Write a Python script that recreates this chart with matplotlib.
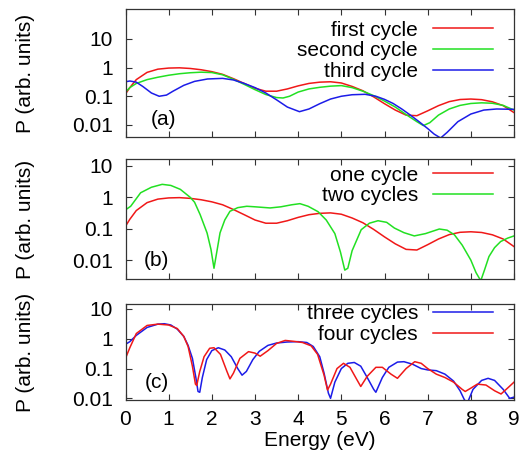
import matplotlib
matplotlib.use("Agg")
import matplotlib.pyplot as plt

plt.rcParams["font.family"] = ["Liberation Sans", "DejaVu Sans"]
plt.rcParams["font.size"] = 15

RED = "#f01818"
GREEN = "#22e022"
BLUE = "#1c1ce8"

# one cycle / first cycle
e_one = [0.0, 0.1, 0.25, 0.5, 0.75, 1.0, 1.25, 1.5, 1.75, 2.0, 2.25, 2.5, 2.75, 3.0,
         3.25, 3.5, 3.75, 4.0, 4.25, 4.5, 4.75, 5.0, 5.25, 5.5, 5.75, 6.0, 6.25, 6.5,
         6.75, 7.0, 7.25, 7.5, 7.75, 8.0, 8.25, 8.5, 8.75, 9.0]
p_one = [0.12, 0.2, 0.38, 0.68, 0.88, 0.96, 0.98, 0.93, 0.84, 0.72, 0.58, 0.41, 0.28, 0.19,
         0.15, 0.15, 0.18, 0.23, 0.28, 0.31, 0.32, 0.29, 0.22, 0.155, 0.095, 0.055, 0.033, 0.022,
         0.021, 0.031, 0.047, 0.065, 0.077, 0.08, 0.076, 0.064, 0.047, 0.027]

# second cycle
e_second = [0.0, 0.1, 0.25, 0.5, 0.75, 1.0, 1.25, 1.5, 1.75, 2.0, 2.25, 2.5, 2.75, 3.0,
            3.25, 3.5, 3.65, 3.8, 4.0, 4.25, 4.5, 4.75, 5.0, 5.25, 5.5, 5.75, 6.0, 6.25,
            6.5, 6.75, 6.9, 7.05, 7.25, 7.5, 7.75, 8.0, 8.25, 8.5, 8.75, 9.0]
p_second = [0.14, 0.2, 0.28, 0.38, 0.46, 0.54, 0.61, 0.66, 0.69, 0.67, 0.56, 0.39, 0.26, 0.17,
            0.115, 0.09, 0.087, 0.1, 0.14, 0.18, 0.205, 0.225, 0.235, 0.2, 0.15, 0.105, 0.068, 0.042,
            0.023, 0.013, 0.0095, 0.012, 0.022, 0.036, 0.048, 0.056, 0.059, 0.057, 0.048, 0.033]

# third cycle
e_third = [0.0, 0.1, 0.25, 0.4, 0.6, 0.78, 0.95, 1.1, 1.35, 1.6, 1.9, 2.25, 2.5, 2.75,
           3.0, 3.25, 3.5, 3.75, 4.03, 4.25, 4.5, 4.75, 5.0, 5.25, 5.55, 5.8, 6.0, 6.2,
           6.4, 6.6, 6.8, 7.0, 7.15, 7.3, 7.45, 7.7, 8.0, 8.3, 8.6, 9.0]
p_third = [0.32, 0.34, 0.31, 0.22, 0.13, 0.1, 0.11, 0.15, 0.24, 0.33, 0.4, 0.42, 0.37, 0.28,
           0.2, 0.13, 0.075, 0.042, 0.029, 0.036, 0.055, 0.08, 0.1, 0.113, 0.117, 0.1, 0.078, 0.056,
           0.036, 0.022, 0.013, 0.0075, 0.0048, 0.0035, 0.0055, 0.013, 0.024, 0.033, 0.036, 0.035]

# two cycles
e_two = [0.0, 0.12, 0.35, 0.6, 0.85, 1.05, 1.27, 1.5, 1.6, 1.73, 1.89, 1.98, 2.05, 2.12,
         2.19, 2.3, 2.42, 2.6, 2.81, 3.0, 3.35, 3.6, 3.85, 4.04, 4.23, 4.46, 4.65, 4.85,
         4.98, 5.08, 5.15, 5.25, 5.46, 5.65, 5.85, 6.05, 6.23, 6.45, 6.69, 6.95, 7.27, 7.45,
         7.62, 7.8, 8.0, 8.12, 8.23, 8.32, 8.42, 8.55, 8.69, 8.85, 9.0]
p_two = [0.4, 0.52, 1.4, 2.1, 2.6, 2.4, 1.8, 1.0, 0.7, 0.28, 0.073, 0.022, 0.0055, 0.02,
         0.074, 0.19, 0.36, 0.47, 0.52, 0.5, 0.46, 0.5, 0.58, 0.63, 0.52, 0.35, 0.19, 0.07,
         0.018, 0.0048, 0.0055, 0.02, 0.093, 0.15, 0.18, 0.16, 0.105, 0.075, 0.059, 0.07, 0.098, 0.09,
         0.064, 0.03, 0.01, 0.004, 0.0022, 0.005, 0.013, 0.025, 0.039, 0.05, 0.059]

# three cycles
e_three = [0.0, 0.1, 0.25, 0.5, 0.75, 0.9, 1.05, 1.2, 1.35, 1.45, 1.55, 1.63, 1.68, 1.72,
           1.78, 1.88, 2.0, 2.15, 2.3, 2.45, 2.6, 2.7, 2.8, 2.95, 3.1, 3.3, 3.5, 3.75,
           4.0, 4.2, 4.35, 4.5, 4.6, 4.7, 4.75, 4.85, 5.0, 5.15, 5.3, 5.45, 5.6, 5.75,
           5.8, 5.95, 6.1, 6.3, 6.45, 6.65, 6.85, 7.0, 7.2, 7.4, 7.6, 7.75, 7.85, 7.92,
           8.05, 8.25, 8.4, 8.55, 8.75, 8.9, 9.0]
p_three = [0.65, 0.8, 1.3, 2.4, 3.1, 3.2, 2.9, 2.1, 1.2, 0.6, 0.22, 0.05, 0.017, 0.016,
           0.05, 0.2, 0.4, 0.5, 0.42, 0.25, 0.1, 0.06, 0.08, 0.2, 0.38, 0.6, 0.72, 0.78,
           0.8, 0.75, 0.55, 0.25, 0.07, 0.015, 0.01, 0.035, 0.1, 0.15, 0.16, 0.12, 0.05, 0.02,
           0.016, 0.05, 0.11, 0.165, 0.17, 0.14, 0.1, 0.09, 0.085, 0.065, 0.038, 0.018, 0.009, 0.007,
           0.02, 0.04, 0.047, 0.04, 0.02, 0.01, 0.011]

# four cycles
e_four = [0.0, 0.1, 0.25, 0.5, 0.75, 1.0, 1.2, 1.35, 1.45, 1.55, 1.62, 1.65, 1.72, 1.82,
          1.95, 2.05, 2.2, 2.35, 2.42, 2.5, 2.65, 2.85, 3.0, 3.12, 3.3, 3.5, 3.7, 3.9,
          4.1, 4.3, 4.45, 4.6, 4.68, 4.75, 4.9, 5.05, 5.2, 5.35, 5.45, 5.6, 5.8, 5.95,
          6.15, 6.3, 6.5, 6.7, 6.85, 7.0, 7.2, 7.4, 7.6, 7.8, 7.87, 8.0, 8.15, 8.35,
          8.55, 8.7, 8.85, 9.0]
p_four = [0.22, 0.5, 1.5, 2.8, 3.1, 2.9, 2.2, 1.2, 0.55, 0.12, 0.03, 0.027, 0.08, 0.25,
          0.48, 0.5, 0.3, 0.08, 0.045, 0.07, 0.22, 0.37, 0.33, 0.26, 0.4, 0.7, 0.88, 0.82,
          0.75, 0.58, 0.3, 0.06, 0.019, 0.03, 0.1, 0.15, 0.11, 0.045, 0.025, 0.055, 0.11, 0.11,
          0.065, 0.047, 0.1, 0.17, 0.15, 0.1, 0.065, 0.05, 0.035, 0.02, 0.017, 0.022, 0.03, 0.028,
          0.018, 0.014, 0.022, 0.035]

yticks = [0.01, 0.1, 1, 10]
ytick_labels = ["0.01", "0.1", "1", "10"]
xticks = list(range(0, 10))

W, H = 527, 466
fig = plt.figure(figsize=(W / 100, H / 100), dpi=100)


def make_axes(top, bottom):
    left, right = 125.5, 514
    return fig.add_axes([left / W, 1 - bottom / H, (right - left) / W, (bottom - top) / H])


ax_a = make_axes(9, 137)
ax_b = make_axes(159, 279)
ax_c = make_axes(304, 400)

ax_a.plot(e_one, p_one, color=RED, lw=1.1, label="first cycle")
ax_a.plot(e_second, p_second, color=GREEN, lw=1.1, label="second cycle")
ax_a.plot(e_third, p_third, color=BLUE, lw=1.1, label="third cycle")

ax_b.plot(e_one, p_one, color=RED, lw=1.1, label="one cycle")
ax_b.plot(e_two, p_two, color=GREEN, lw=1.1, label="two cycles")

ax_c.plot(e_three, p_three, color=BLUE, lw=1.1, label="three cycles")
ax_c.plot(e_four, p_four, color=RED, lw=1.1, label="four cycles")

ylims = [(0.0038, 110), (0.0025, 16.7), (0.0088, 14.7)]
tags = ["(a)", "(b)", "(c)"]
tag_pos = [(0.097, 0.14), (0.08, 0.158), (0.08, 0.18)]
legend_top = [0.91, 0.945, 1.0]

for ax, ylim, tag, pos, ltop in zip([ax_a, ax_b, ax_c], ylims, tags, tag_pos, legend_top):
    ax.set_yscale("log")
    ax.set_xlim(0, 9)
    ax.set_ylim(*ylim)
    ax.set_yticks(yticks)
    ax.set_yticklabels(ytick_labels)
    ax.yaxis.set_minor_locator(matplotlib.ticker.NullLocator())
    ax.set_xticks(xticks)
    ax.tick_params(direction="in", top=True, right=True, length=4.5, width=0.8,
                   color="#333333", pad=9)
    for s in ax.spines.values():
        s.set_color("#333333")
        s.set_linewidth(0.9)
    ax.set_ylabel("P (arb. units)", va="center")
    ax.yaxis.set_label_coords(-0.257, 0.5)
    ax.text(pos[0], pos[1], tag, transform=ax.transAxes, ha="center", va="center")
    ax.legend(loc="upper right", bbox_to_anchor=(0.945, ltop), frameon=False,
              markerfirst=False, handlelength=2.85, handletextpad=0.73,
              labelspacing=0.09, borderpad=0, borderaxespad=0)

ax_a.set_xticklabels([])
ax_b.set_xticklabels([])
ax_c.tick_params(axis="x", pad=7)
ax_c.set_xlabel("Energy (eV)", labelpad=2)

fig.savefig("out.png", dpi=100)
